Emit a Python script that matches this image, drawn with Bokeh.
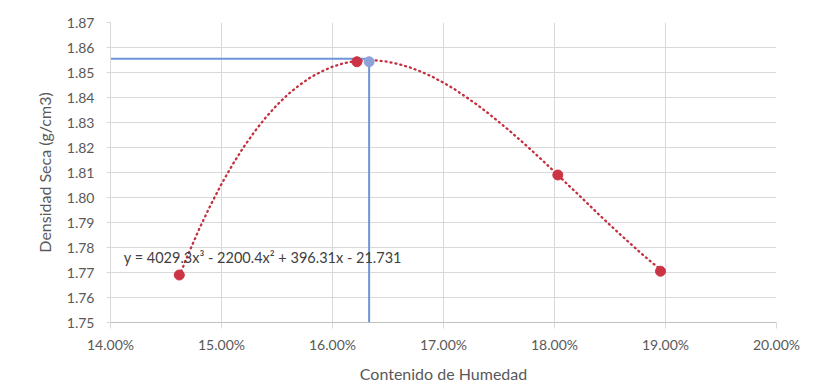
from bokeh.plotting import figure
from bokeh.models import Range1d, FixedTicker, NumeralTickFormatter
from bokeh.core.properties import value
from bokeh.embed import file_html
from bokeh.resources import INLINE

# Measured points (humidity as fraction, dry density g/cm3)
humidity = [0.1462, 0.1622, 0.1803, 0.18955]
density = [1.7690, 1.8543, 1.8090, 1.7705]

# Polynomial trend line
trend_x = [0.1462, 0.147, 0.148, 0.149, 0.150, 0.151, 0.152, 0.153, 0.154, 0.155,
           0.156, 0.157, 0.158, 0.159, 0.160, 0.161, 0.162, 0.163, 0.164, 0.165,
           0.166, 0.167, 0.168, 0.169, 0.170, 0.171, 0.172, 0.173, 0.174, 0.175,
           0.176, 0.177, 0.178, 0.179, 0.180, 0.181, 0.182, 0.183, 0.184, 0.185,
           0.186, 0.187, 0.188, 0.189, 0.18955]
trend_y = [1.7686, 1.7773, 1.7875, 1.7968, 1.8054, 1.8132, 1.8202, 1.8265, 1.8321, 1.8370,
           1.8413, 1.8449, 1.8480, 1.8504, 1.8523, 1.8537, 1.8545, 1.8549, 1.8548, 1.8543,
           1.8533, 1.8520, 1.8503, 1.8483, 1.8459, 1.8433, 1.8403, 1.8372, 1.8338, 1.8302,
           1.8265, 1.8226, 1.8186, 1.8145, 1.8103, 1.8060, 1.8018, 1.7975, 1.7932, 1.7890,
           1.7849, 1.7809, 1.7769, 1.7732, 1.7712]

# Optimum (max dry density & optimum humidity)
opt_humidity = 0.1633
max_density = 1.8543
guide_level = 1.8555

equation = "y = 4029.3x\u00b3 - 2200.4x\u00b2 + 396.31x - 21.731"
eq_pos = (0.1412, 1.7759)

x_ticks = [0.14, 0.15, 0.16, 0.17, 0.18, 0.19, 0.20]
y_ticks = [1.75, 1.76, 1.77, 1.78, 1.79, 1.80, 1.81, 1.82, 1.83, 1.84, 1.85, 1.86, 1.87]

FONT = "Lato"
TXT = "#595959"
GRID = "#d9d9d9"

p = figure(width=818, height=385, output_backend="svg", toolbar_location=None,
           x_range=Range1d(x_ticks[0], x_ticks[-1]), y_range=Range1d(y_ticks[0], y_ticks[-1]),
           min_border_left=110, min_border_right=42, min_border_top=22, min_border_bottom=62)
p.outline_line_color = None
p.background_fill_color = "white"

p.xaxis.ticker = FixedTicker(ticks=x_ticks)
p.yaxis.ticker = FixedTicker(ticks=y_ticks)
p.xaxis.formatter = NumeralTickFormatter(format="0.00%")
p.yaxis.formatter = NumeralTickFormatter(format="0.00")

p.xgrid.grid_line_color = GRID
p.ygrid.grid_line_color = GRID

for ax in (p.xaxis[0], p.yaxis[0]):
    ax.major_label_text_font = FONT
    ax.major_label_text_font_size = "14px"
    ax.major_label_text_color = TXT
    ax.axis_label_text_font = FONT
    ax.axis_label_text_font_size = "16px"
    ax.axis_label_text_color = TXT
    ax.axis_label_text_font_style = "normal"
    ax.minor_tick_line_color = None
    ax.major_tick_line_color = GRID
    ax.major_tick_in = 0

p.xaxis.axis_label = "Contenido de Humedad"
p.yaxis.axis_label = "Densidad Seca (g/cm3)"
p.xaxis.axis_line_color = "#bfbfbf"
p.yaxis.axis_line_color = GRID
p.xaxis.major_tick_out = 6
p.xaxis.major_label_standoff = 7
p.xaxis.axis_label_standoff = 8
p.yaxis.major_tick_out = 4
p.yaxis.major_label_standoff = 12
p.yaxis.axis_label_standoff = 10

# trend line
p.line(trend_x, trend_y, line_color="#c4303e", line_width=2.3, line_dash="1 4", line_cap="round")

# guide lines to optimum
p.line([x_ticks[0], opt_humidity], [guide_level, guide_level], line_color="#6d95d8", line_width=2)
p.line([opt_humidity, opt_humidity], [guide_level, y_ticks[0]], line_color="#6d95d8", line_width=2)

# points
p.scatter(humidity, density, size=10, fill_color="#cc3344", line_color="#cc3344")
p.scatter([opt_humidity], [max_density], size=10, fill_color="#8fa2d8", line_color="#8fa2d8")

# equation label
p.text(x=[eq_pos[0]], y=[eq_pos[1]], text=[equation], text_font=value(FONT),
       text_font_size="14.5px", text_color="#404040", text_baseline="middle", text_align="left")

open("out.html", "w").write(file_html(p, INLINE))
